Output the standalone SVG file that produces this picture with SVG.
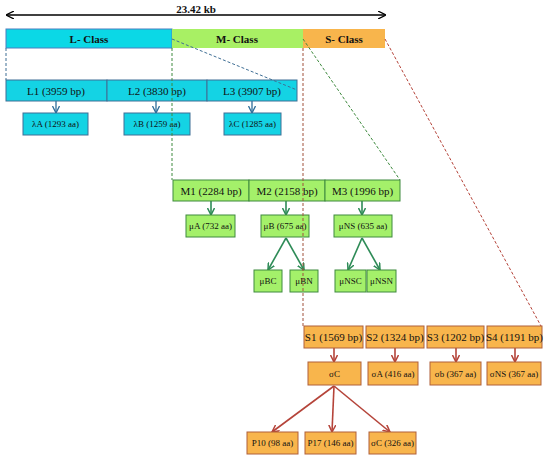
<svg xmlns="http://www.w3.org/2000/svg" width="550" height="459" viewBox="0 0 550 459">
<defs>
<marker id="ab" markerWidth="8" markerHeight="8" refX="7" refY="4" orient="auto" markerUnits="userSpaceOnUse"><path d="M0,0 L8,4 L0,8" fill="none" stroke="#000" stroke-width="1.3"/></marker>
<marker id="as" markerWidth="8" markerHeight="8" refX="1" refY="4" orient="auto" markerUnits="userSpaceOnUse"><path d="M8,0 L0,4 L8,8" fill="none" stroke="#000" stroke-width="1.3"/></marker>
<marker id="mb" markerWidth="8" markerHeight="8" refX="7" refY="4" orient="auto" markerUnits="userSpaceOnUse"><path d="M0,0.5 L7,4 L0,7.5" fill="none" stroke="#2F6E9A" stroke-width="1.3"/></marker>
<marker id="mg" markerWidth="8" markerHeight="8" refX="7" refY="4" orient="auto" markerUnits="userSpaceOnUse"><path d="M0,0.5 L7,4 L0,7.5" fill="none" stroke="#2E8B57" stroke-width="1.5"/></marker>
<marker id="mr" markerWidth="8" markerHeight="8" refX="7" refY="4" orient="auto" markerUnits="userSpaceOnUse"><path d="M0,0.5 L7,4 L0,7.5" fill="none" stroke="#B5443A" stroke-width="1.5"/></marker>
</defs>
<style>
text{font-family:"Liberation Serif","Times New Roman",serif;text-anchor:middle;dominant-baseline:central;fill:#111}
.hd{font-size:11px;font-weight:bold}
.r{font-size:11px}
.s{font-size:9px}
.c{fill:#14D3E4;stroke:#3F6F95;stroke-width:1}
.g{fill:#A4F06A;stroke:#3E8A3E;stroke-width:1}
.o{fill:#F8B54C;stroke:#B0603A;stroke-width:1}
.lb{stroke:#2F6E9A;stroke-width:1.3;fill:none}
.lg{stroke:#2E8B57;stroke-width:1.6;fill:none}
.lr{stroke:#B5443A;stroke-width:1.6;fill:none}
.d{fill:none;stroke-width:1;stroke-dasharray:3,2}
</style>
<g id="scale">
<line x1="7" y1="15" x2="385" y2="15" stroke="#000" stroke-width="1.3" marker-start="url(#as)" marker-end="url(#ab)"/>
<text class="hd" x="196" y="9">23.42 kb</text>
</g>
<g id="connectors">
<line class="lb" x1="56" y1="101" x2="56" y2="113" marker-end="url(#mb)"/>
<line class="lb" x1="156" y1="101" x2="156" y2="113" marker-end="url(#mb)"/>
<line class="lb" x1="252" y1="101" x2="252" y2="113" marker-end="url(#mb)"/>
<line class="lg" x1="211" y1="201" x2="211" y2="215" marker-end="url(#mg)"/>
<line class="lg" x1="286" y1="201" x2="286" y2="215" marker-end="url(#mg)"/>
<line class="lg" x1="362" y1="201" x2="362" y2="215" marker-end="url(#mg)"/>
<line class="lg" x1="286" y1="238" x2="268" y2="270" marker-end="url(#mg)"/>
<line class="lg" x1="286" y1="238" x2="304" y2="270" marker-end="url(#mg)"/>
<line class="lg" x1="362" y1="238" x2="348" y2="270" marker-end="url(#mg)"/>
<line class="lg" x1="362" y1="238" x2="380" y2="270" marker-end="url(#mg)"/>
<line class="lr" x1="334" y1="348" x2="334" y2="362" marker-end="url(#mr)"/>
<line class="lr" x1="395" y1="348" x2="395" y2="362" marker-end="url(#mr)"/>
<line class="lr" x1="456" y1="348" x2="456" y2="362" marker-end="url(#mr)"/>
<line class="lr" x1="515" y1="348" x2="515" y2="362" marker-end="url(#mr)"/>
<line class="lr" x1="334" y1="386" x2="272" y2="432" marker-end="url(#mr)"/>
<line class="lr" x1="334" y1="386" x2="332" y2="432" marker-end="url(#mr)"/>
<line class="lr" x1="334" y1="386" x2="390" y2="432" marker-end="url(#mr)"/>
</g>
<g id="L-Class"><rect x="6" y="29" width="166" height="19" fill="#0BD8E6" stroke="#4A7FC0" stroke-width="1"/><text class="hd" x="89" y="38.5">L- Class</text></g>
<g id="M-Class"><rect x="172" y="29" width="131" height="19" fill="#A8F064"/><text class="hd" x="237" y="38.5">M- Class</text></g>
<g id="S-Class"><rect x="303" y="29" width="82" height="19" fill="#F8B54C"/><text class="hd" x="344" y="38.5">S- Class</text></g>
<g id="L1"><rect class="c" x="6" y="80" width="101" height="21"/><text class="r" x="56" y="90.5">L1 (3959 bp)</text></g>
<g id="L2"><rect class="c" x="107" y="80" width="100" height="21"/><text class="r" x="157" y="90.5">L2 (3830 bp)</text></g>
<g id="L3"><rect class="c" x="207" y="80" width="90" height="21"/><text class="r" x="252" y="90.5">L3 (3907 bp)</text></g>
<g id="lA"><rect class="c" x="23" y="113" width="65" height="22"/><text class="s" x="55.5" y="124">λA (1293 aa)</text></g>
<g id="lB"><rect class="c" x="124" y="113" width="66" height="22"/><text class="s" x="157" y="124">λB (1259 aa)</text></g>
<g id="lC"><rect class="c" x="224" y="113" width="57" height="22"/><text class="s" x="252.5" y="124">λC (1285 aa)</text></g>
<g id="M1"><rect class="g" x="173" y="180" width="76" height="21"/><text class="r" x="211" y="190.5">M1 (2284 bp)</text></g>
<g id="M2"><rect class="g" x="249" y="180" width="76" height="21"/><text class="r" x="287" y="190.5">M2 (2158 bp)</text></g>
<g id="M3"><rect class="g" x="325" y="180" width="75" height="21"/><text class="r" x="362.5" y="190.5">M3 (1996 bp)</text></g>
<g id="muA"><rect class="g" x="186" y="215" width="49" height="22"/><text class="s" x="210.5" y="226">μA (732 aa)</text></g>
<g id="muB"><rect class="g" x="261" y="215" width="48" height="22"/><text class="s" x="285" y="226">μB (675 aa)</text></g>
<g id="muNS"><rect class="g" x="334" y="215" width="58" height="22"/><text class="s" x="363" y="226">μNS (635 aa)</text></g>
<g id="muBC"><rect class="g" x="254" y="270" width="28" height="22"/><text class="s" x="268" y="281">μBC</text></g>
<g id="muBN"><rect class="g" x="290" y="270" width="28" height="22"/><text class="s" x="304" y="281">μBN</text></g>
<g id="muNSC"><rect class="g" x="335" y="270" width="31" height="22"/><text class="s" x="350.5" y="281">μNSC</text></g>
<g id="muNSN"><rect class="g" x="367" y="270" width="29" height="22"/><text class="s" x="381.5" y="281">μNSN</text></g>
<g id="S1"><rect class="o" x="304" y="326" width="59" height="22"/><text class="r" x="333.5" y="337">S1 (1569 bp)</text></g>
<g id="S2"><rect class="o" x="366" y="326" width="58" height="22"/><text class="r" x="395" y="337">S2 (1324 bp)</text></g>
<g id="S3"><rect class="o" x="427" y="326" width="57" height="22"/><text class="r" x="455.5" y="337">S3 (1202 bp)</text></g>
<g id="S4"><rect class="o" x="487" y="326" width="55" height="22"/><text class="r" x="514.5" y="337">S4 (1191 bp)</text></g>
<g id="sC"><rect class="o" x="308" y="362" width="53" height="23"/><text class="s" x="334.5" y="373.5">σC</text></g>
<g id="sA"><rect class="o" x="368" y="362" width="50" height="23"/><text class="s" x="393" y="373.5">σA (416 aa)</text></g>
<g id="sb"><rect class="o" x="430" y="362" width="51" height="23"/><text class="s" x="455.5" y="373.5">σb (367 aa)</text></g>
<g id="sNS"><rect class="o" x="487" y="362" width="54" height="23"/><text class="s" x="514" y="373.5">σNS (367 aa)</text></g>
<g id="P10"><rect class="o" x="247" y="432" width="51" height="22"/><text class="s" x="272.5" y="443">P10 (98 aa)</text></g>
<g id="P17"><rect class="o" x="305" y="432" width="51" height="22"/><text class="s" x="330.5" y="443">P17 (146 aa)</text></g>
<g id="sC2"><rect class="o" x="369" y="432" width="47" height="22"/><text class="s" x="392.5" y="443">σC (326 aa)</text></g>
<g id="dashed-guides">
<line class="d" stroke="#3F6F95" x1="6" y1="48" x2="6" y2="80"/>
<line class="d" stroke="#3F6F95" x1="172" y1="39" x2="297" y2="90"/>
<line class="d" stroke="#3E8A3E" x1="172" y1="48" x2="172" y2="180"/>
<line class="d" stroke="#3E8A3E" x1="303" y1="39" x2="400" y2="180"/>
<line class="d" stroke="#A0503A" x1="303" y1="48" x2="303" y2="326"/>
<line class="d" stroke="#B5443A" x1="385" y1="39" x2="541" y2="326"/>
</g>
</svg>
